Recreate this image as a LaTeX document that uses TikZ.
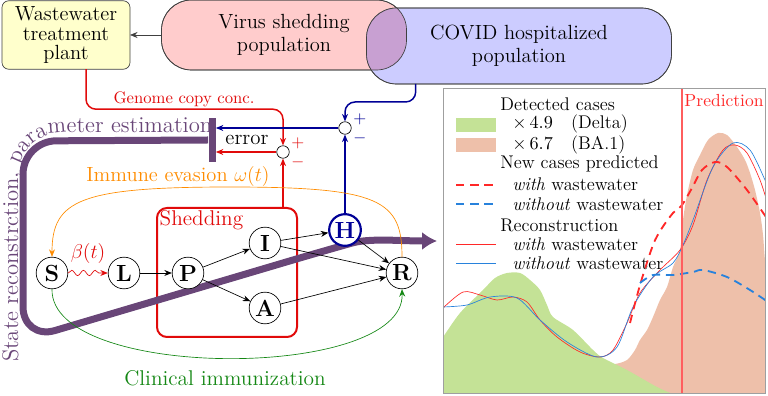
\documentclass[tikz,border=0pt]{standalone}
\usetikzlibrary{arrows.meta,positioning,decorations.pathmorphing,decorations.text}

\begin{document}
\begin{tikzpicture}[x=0.6pt,y=-0.6pt,font=\fontsize{12.3}{13.5}\selectfont,
  >={Stealth[length=4.5pt,width=3.6pt]},
  state/.style={circle,draw,fill=white,minimum size=19pt,inner sep=0pt,
    font=\fontsize{14}{15}\selectfont\bfseries},
  sumnode/.style={circle,draw,fill=white,minimum size=7.5pt,inner sep=0pt},
  popbox/.style={draw=kGrey,rounded corners=18pt,align=center,outer sep=0pt},
  sign/.style={inner sep=0pt,font=\fontsize{10}{11}\selectfont},
  arc/.style={->,thin},
  redline/.style={kRed,line width=0.9pt,rounded corners=6pt},
  blueline/.style={kNavy,line width=0.9pt,rounded corners=6pt},
  legtext/.style={anchor=west,inner sep=0pt,font=\fontsize{11}{12}\selectfont}]
  \definecolor{kGrey}{rgb}{0.25,0.25,0.25}
  \definecolor{kYellow}{RGB}{255,255,204}
  \definecolor{kPink}{RGB}{255,204,204}
  \definecolor{kLav}{RGB}{204,204,255}
  \definecolor{kMauve}{RGB}{200,160,210}
  \definecolor{kRed}{RGB}{225,10,10}
  \definecolor{kNavy}{RGB}{0,0,150}
  \definecolor{kOrange}{RGB}{255,140,0}
  \definecolor{kGreen}{RGB}{20,135,20}
  \definecolor{kPurple}{RGB}{105,70,120}
  \definecolor{kGreenFill}{RGB}{196,226,150}
  \definecolor{kSalmon}{RGB}{238,192,170}
  \definecolor{kPlotRed}{RGB}{255,40,40}
  \definecolor{kPlotBlue}{RGB}{40,130,220}

  \useasboundingbox (0,0) rectangle (768,396);

  % populations
  \node[popbox,fill=kYellow,rounded corners=4pt,minimum width=76.8pt,minimum height=39.6pt,
    font=\fontsize{12.3}{11.8}\selectfont] (wwtp) at (66,35) {Wastewater\\treatment\\plant};
  \node[popbox,fill=kPink,minimum width=147pt,minimum height=42pt] (shedpop) at (284,35) {Virus shedding\\population};
  \node[popbox,fill=kLav,minimum width=183pt,minimum height=45.6pt] (hosp) at (519,46) {COVID hospitalized\\population};
  %% overlap
  \begin{scope}
    \clip[rounded corners=18pt] (shedpop.south west) rectangle (shedpop.north east);
    \fill[kMauve,rounded corners=18pt] (hosp.south west) rectangle (hosp.north east);
  \end{scope}
  \draw[kGrey,rounded corners=18pt] (shedpop.south west) rectangle (shedpop.north east);
  \draw[kGrey,rounded corners=18pt] (hosp.south west) rectangle (hosp.north east);
  \draw[->,kGrey] (shedpop) -- (wwtp);

  % compartments
  \node[draw=kRed,line width=1.2pt,rounded corners=6pt,minimum width=84pt,minimum height=77.4pt] (shed) at (227,272.5) {};
  \node[kRed,anchor=north west,inner sep=2pt,font=\fontsize{12.8}{14}\selectfont] (shedlbl) at (shed.north west) {Shedding};

  % error loop
  \node[sumnode] (sumR) at (283,152) {};
  \node[sumnode] (sumB) at (345,128) {};
  \node[fill=kPurple,minimum width=4.2pt,minimum height=26.4pt,inner sep=0pt] (errbar) at (212,140) {};
  \node[font=\fontsize{12.5}{13}\selectfont] (errlbl) at (247,140) {error};
  \node[sign,kRed] at ([xshift=5pt,yshift=5pt]sumR.east) (pR) {$+$};
  \node[sign,kRed] at ([xshift=5pt,yshift=-6pt]sumR.east) (mR) {$-$};
  \node[sign,kNavy] at ([xshift=5pt,yshift=5pt]sumB.east) (pB) {$+$};
  \node[sign,kNavy] at ([xshift=5pt,yshift=-6pt]sumB.east) (mB) {$-$};

  \draw[redline,->] ([xshift=12pt]wwtp.south) -- ++(0,40) -| (sumR);
  \node[kRed,font=\fontsize{10}{11}\selectfont] (gcc) at (184,99) {Genome copy conc.};
  \draw[blueline,->] ([xshift=-62pt]hosp.south) -- ++(0,18) -| (sumB);

  % reconstruction arrow
  \draw[kPurple,line width=4.2pt,rounded corners=20pt,-{Latex[length=9pt,width=11pt]}]
    (errbar.west) -- (23,141) -- (23,340) -- (320,252) .. controls (370,238) and (400,241) .. (437,241) coordinate (recend);
  \path[decorate,decoration={text along path,text align=left,
    text={|\fontsize{13.6}{15}\selectfont\color{kPurple}|State reconstrction, parameter estimation}}]
    (18,362) [rounded corners=26pt] -- (18,133) -- (240,133);
  \node[fill=kPurple,minimum width=4.2pt,minimum height=26.4pt,inner sep=0pt] at (errbar) {};

  \draw[blueline,->] (sumB) -- (sumB -| errbar.east);
  \draw[redline,->] (sumR) -- (sumR -| errbar.east);

  % states
  \node[state] (S) at (52,273) {S};
  \node[state] (L) at (124,273) {L};
  \node[state] (P) at (188,273) {P};
  \node[state] (I) at (265,243) {I};
  \node[state] (A) at (265,308) {A};
  \node[state] (R) at (402,273) {R};
  \node[state,draw=kNavy,text=kNavy,line width=1.3pt] (H) at (345,230) {H};

  \draw[redline,->] (shed.north -| sumR) -- (sumR);
  \draw[blueline,->] (H) -- (sumB);

  \draw[kOrange,thin,->] (R.north) .. controls (402,200) and (380,187) .. (230,187)
    .. controls (80,187) and (52,200) .. (S.north);
  \node[kOrange,font=\fontsize{12.3}{14}\selectfont] (evas) at (178,177) {Immune evasion $\omega(t)$};
  \draw[kGreen,thin,->] (S.south) .. controls (50,381) and (405,381) .. (R.south);
  \node[kGreen,font=\fontsize{12.8}{14}\selectfont] (clin) at (225,378) {Clinical immunization};

  \draw[kRed,thin,->,decorate,decoration={snake,amplitude=1.6pt,segment length=7pt,post length=4pt}]
    (S) -- (L) node[midway,above=2pt,font=\fontsize{12.5}{14}\selectfont] (beta) {$\beta(t)$};
  \draw[arc] (L) -- (P);
  \draw[arc] (P) -- (I);
  \draw[arc] (P) -- (A);
  \draw[arc] (I) -- (H);
  \draw[arc] (I) -- (R);
  \draw[arc] (H) -- (R);
  \draw[arc] (A) -- (R);

  % plot
  \begin{scope}
    \clip (443,88) rectangle (765,393);
    \fill[kSalmon] plot[smooth] coordinates {(600,364) (615,364) (627,360) (635,350) (640,340)
      (647,330) (653,317) (660,300) (667,287) (673,267) (680,250) (683,220) (687,195) (693,170)
      (700,155) (708,140) (718,133) (727,135) (737,147) (745,160) (750,173) (755,190) (760,213)
      (763,235) (765,260) (768,280)} -- (768,396) -- (600,396) -- cycle;
    \fill[kGreenFill] plot[smooth] coordinates {(440,339) (443,337) (460,313) (483,290) (495,278)
      (507,273) (520,273) (530,280) (540,290) (547,305) (553,317) (573,330) (593,350) (603,358)
      (627,370) (657,387) (673,394)} -- (673,396) -- (440,396) -- cycle;
    \draw[kPlotRed,thin] plot[smooth] coordinates {(443,308) (463,292) (480,295) (497,300) (513,297)
      (527,302) (540,320) (557,337) (580,352) (600,357) (613,350) (627,323) (640,293) (660,270)
      (680,250) (693,225) (707,180) (723,150) (735,145) (747,153) (760,180) (768,205)};
    \draw[kPlotBlue,thin] plot[smooth] coordinates {(443,307) (467,305) (490,297) (517,298) (540,320)
      (567,342) (597,357) (617,347) (633,307) (653,277) (673,263) (683,245) (693,220) (713,167)
      (733,143) (750,150) (765,180) (768,188)};
    \draw[kPlotRed,line width=1.1pt,dash pattern=on 5pt off 3.5pt] plot[smooth] coordinates {(630,323)
      (640,285) (653,245) (662,228) (673,213) (682,205) (692,188) (702,170) (715,162) (727,167)
      (747,190) (768,220)};
    \draw[kPlotBlue,line width=1.1pt,dash pattern=on 5pt off 3.5pt] plot[smooth] coordinates {(640,283)
      (653,275) (673,275) (693,272) (703,270) (727,277) (750,290) (768,302)};
    \draw[kPlotRed!75,line width=1.3pt] (682,88) -- (682,393);
  \end{scope}
  \draw[gray!75] (443,88) rectangle (765,393);
  \node[kPlotRed,font=\fontsize{10.5}{12}\selectfont] (pred) at (724,101) {Prediction};

  % legend
  \fill[kGreenFill] (456,118) rectangle (496,132);
  \fill[kSalmon] (456,138) rectangle (496,152);
  \draw[kPlotRed,line width=1.1pt,dash pattern=on 5pt off 3.5pt] (456,185) -- (496,185);
  \draw[kPlotBlue,line width=1.1pt,dash pattern=on 5pt off 3.5pt] (456,204) -- (496,204);
  \draw[kPlotRed,thin] (456,244) -- (496,244);
  \draw[kPlotBlue,thin] (456,263) -- (496,263);
  \node[legtext] (lg1) at (500,104) {Detected cases};
  \node[legtext] (lg2) at (512,124) {$\times\,4.9$\quad(Delta)};
  \node[legtext] (lg3) at (512,145) {$\times\,6.7$\quad(BA.1)};
  \node[legtext] (lg4) at (500,164) {New cases predicted};
  \node[legtext] (lg5) at (512,184) {\textit{with} wastewater};
  \node[legtext] (lg6) at (512,204) {\textit{without} wastewater};
  \node[legtext] (lg7) at (500,225) {Reconstruction};
  \node[legtext] (lg8) at (512,244) {\textit{with} wastewater};
  \node[legtext] (lg9) at (512,263) {\textit{without} wastewater};
\end{tikzpicture}
\end{document}
